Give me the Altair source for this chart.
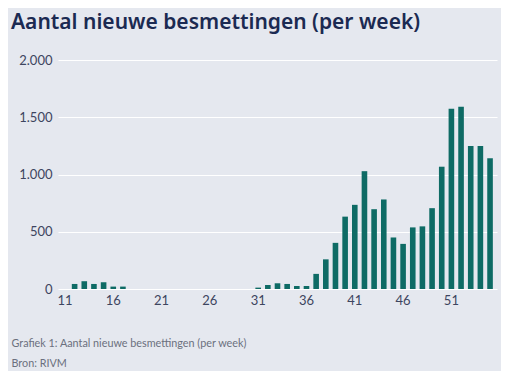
import altair as alt
import pandas as pd

weeks = list(range(11, 56))
values = [0, 44, 68, 44, 59, 21, 21, 0, 0, 0,
          0, 0, 0, 0, 0, 0, 0, 0, 0, 0,
          12, 35, 50, 44, 26, 26, 132, 259, 403, 632,
          735, 1029, 697, 782, 450, 394, 538, 547, 706, 1068,
          1574, 1591, 1250, 1250, 1141]
tick_weeks = [11, 16, 21, 26, 31, 36, 41, 46, 51]
y_ticks = [0, 500, 1000, 1500, 2000]
title_text = "Aantal nieuwe besmettingen (per week)"
footnote = ["Grafiek 1: Aantal nieuwe besmettingen (per week)", "Bron: RIVM"]

df = pd.DataFrame({"week": weeks, "value": values})

bg = "#E5E8EF"

chart = alt.Chart(df).mark_bar(color="#0e6b65").encode(
    x=alt.X("week:O", sort=weeks,
            scale=alt.Scale(paddingInner=0.42, paddingOuter=0.43),
            axis=alt.Axis(values=tick_weeks, labelAngle=0, ticks=False, domain=False,
                          labelFontSize=13, labelColor="#3d4560", labelFont="Lato",
                          labelPadding=5, title=footnote, titleFont="Lato",
                          titleFontSize=10.8, titleFontWeight="normal", titleColor="#6b707e",
                          titleAnchor="start", titleAlign="left", titleBaseline="top",
                          titleX=-47, titleY=48, titleLineHeight=20)),
    y=alt.Y("value:Q", scale=alt.Scale(domain=[0, 2000]),
            axis=alt.Axis(values=y_ticks, ticks=False, domain=False, title=None,
                          grid=True, gridColor="white", gridWidth=1.2,
                          labelFontSize=13, labelColor="#3d4560", labelFont="Lato",
                          labelPadding=6,
                          labelExpr="replace(format(datum.value, ','), ',', '.')")),
).properties(
    width=439, height=229,
    title=alt.TitleParams(title_text, anchor="start", frame="group", dx=-47, offset=21,
                          font="Noto Sans", fontSize=21, fontWeight=600, color="#1b2a52"),
    autosize=alt.AutoSizeParams(type="none"),
    padding={"left": 50, "top": 52, "right": 4, "bottom": 82},
    background=bg,
).configure_view(stroke=None)

chart.save("out.html", embed_options={"renderer": "svg", "actions": False})
